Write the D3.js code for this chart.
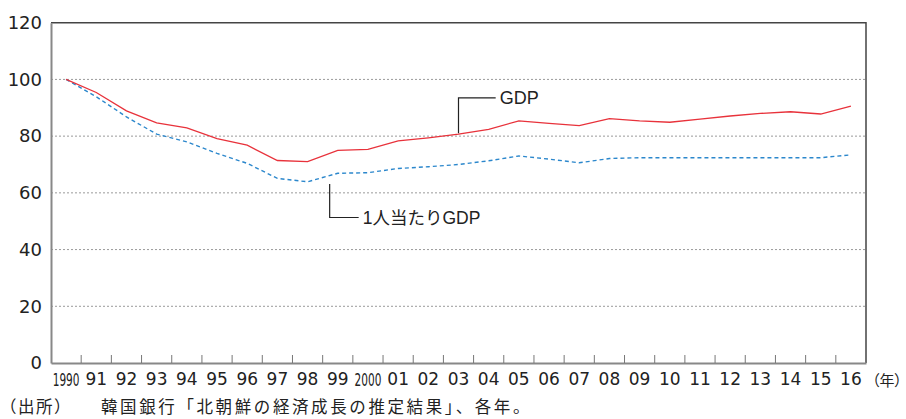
<!DOCTYPE html>
<html><head><meta charset="utf-8">
<script src="https://cdn.jsdelivr.net/npm/d3@7"></script>
<style>
html,body{margin:0;padding:0;background:#fff;}
svg{display:block;}
.num{font-family:"DejaVu Sans",sans-serif;font-size:17px;fill:#222;}
.cjk{font-family:"Liberation Sans","Noto Sans CJK JP",sans-serif;fill:#222;}
</style>
</head><body>
<svg id="chart" width="906" height="419"></svg>
<script>
const years = d3.range(1990, 2017);
const yearLabels = ["1990","91","92","93","94","95","96","97","98","99","2000","01","02","03","04","05","06","07","08","09","10","11","12","13","14","15","16"];
const gdp = [100,95.4,88.9,84.7,82.9,79.1,76.8,71.4,71.0,75.0,75.3,78.3,79.4,80.7,82.4,85.4,84.5,83.7,86.2,85.4,84.9,86.0,87.1,88.0,88.6,87.8,90.6];
const perCapita = [100,93.9,86.8,80.7,78.0,73.9,70.4,65.1,63.9,66.9,67.1,68.6,69.2,70.0,71.3,73.0,71.9,70.6,72.1,72.4,72.4,72.4,72.4,72.4,72.4,72.4,73.4];
const yTicks = [0,20,40,60,80,100,120];
const gridValues = [20,40,60,80,100];
const seriesNames = ["GDP","1人当たりGDP"];
const yearUnit = "（年）";
const sourceHead = "（出所）";
const sourceBody = "韓国銀行「北朝鮮の経済成長の推定結果」、各年。";

const L = 51, R = 866, T = 22.7, B = 363;
const svg = d3.select("#chart");
const x = d3.scaleBand().domain(years).range([L, R]).padding(0);
const cx = d => x(d) + x.bandwidth() / 2;
const y = d3.scaleLinear().domain([0, 120]).range([B, T]);

// gridlines
svg.append("g").selectAll("line").data(gridValues).join("line")
  .attr("x1", L).attr("x2", R).attr("y1", d => y(d)).attr("y2", d => y(d))
  .attr("stroke", "#9a9a9a").attr("stroke-width", 1).attr("stroke-dasharray", "2,2");

// frame top/right
svg.append("path").attr("d", `M${L},${y(120)}H${R}V${B}`)
  .attr("fill", "none").attr("stroke", "#444").attr("stroke-width", 1.5);

// y axis
const yAxis = svg.append("g").attr("transform", `translate(${L},0)`)
  .call(d3.axisLeft(y).tickValues(yTicks).tickSize(0).tickPadding(9));
yAxis.select(".domain").attr("stroke", "#888").attr("stroke-width", 2);
yAxis.selectAll("text").attr("class", "num").attr("font-family", null).attr("font-size", null)
  .style("font-size", "18px");

// x axis (labels at band centers)
const xAxis = svg.append("g").attr("transform", `translate(0,${B})`)
  .call(d3.axisBottom(x).tickSize(0).tickPadding(10).tickFormat((d, i) => yearLabels[i]));
xAxis.select(".domain").attr("stroke", "#888").attr("stroke-width", 2);
xAxis.selectAll("text").attr("class", "num").attr("font-family", null).attr("font-size", null)
  .each(function(d, i) {
    if (yearLabels[i].length === 4) {
      d3.select(this).style("font-size", "17px").attr("dy", "0.74em")
        .attr("transform", "scale(0.62,1)");
    }
  });

// x tick marks at band boundaries
svg.append("g").selectAll("line").data(years.slice(1)).join("line")
  .attr("x1", d => x(d)).attr("x2", d => x(d)).attr("y1", B).attr("y2", B - 8)
  .attr("stroke", "#777").attr("stroke-width", 1);

// lines
const line = d3.line().x((d, i) => cx(years[i])).y(d => y(d));
svg.append("path").datum(perCapita).attr("d", line)
  .attr("fill", "none").attr("stroke", "#2b87cc").attr("stroke-width", 1.4).attr("stroke-dasharray", "4,3");
svg.append("path").datum(gdp).attr("d", line)
  .attr("fill", "none").attr("stroke", "#e8323b").attr("stroke-width", 1.3);

// annotations
const gx = cx(2003), gy = y(gdp[years.indexOf(2003)]);
const gTop = y(93.5), gEnd = cx(2004) + 7;
svg.append("path").attr("d", `M${gx},${gy - 1}V${gTop}H${gEnd}`)
  .attr("fill", "none").attr("stroke", "#222").attr("stroke-width", 1.2);
svg.append("text").attr("class", "cjk").attr("x", gEnd + 4).attr("y", gTop)
  .attr("dy", "0.35em").style("font-size", "18px").text(seriesNames[0]);

const px = x(1998) + x.bandwidth() + 7, py = y(63.1), pBot = y(51.3), pEnd = px + 29;
svg.append("path").attr("d", `M${px},${py}V${pBot}H${pEnd}`)
  .attr("fill", "none").attr("stroke", "#222").attr("stroke-width", 1.2);
svg.append("text").attr("class", "cjk").attr("x", pEnd + 4).attr("y", pBot)
  .attr("dy", "0.35em").style("font-size", "17.5px").text(seriesNames[1]);

// year unit
svg.append("text").attr("x", R + 6).attr("y", B + 10).attr("dy", "0.85em")
  .style("font-family", "'Noto Sans CJK JP',sans-serif").style("font-size", "15px")
  .style("font-feature-settings", "'palt'").attr("fill", "#222").text(yearUnit);

// source
svg.append("text").attr("x", 0).attr("y", 407).attr("dy", "0.35em")
  .style("font-family", "'Noto Sans CJK JP',sans-serif").style("font-size", "16.5px")
  .style("letter-spacing", "1.5px").attr("fill", "#222").text(sourceHead);
svg.append("text").attr("x", 101).attr("y", 407).attr("dy", "0.35em")
  .style("font-family", "'Noto Sans CJK JP',sans-serif").style("font-size", "16.5px")
  .style("letter-spacing", "2.6px").attr("fill", "#222").text(sourceBody);
</script>
</body></html>
